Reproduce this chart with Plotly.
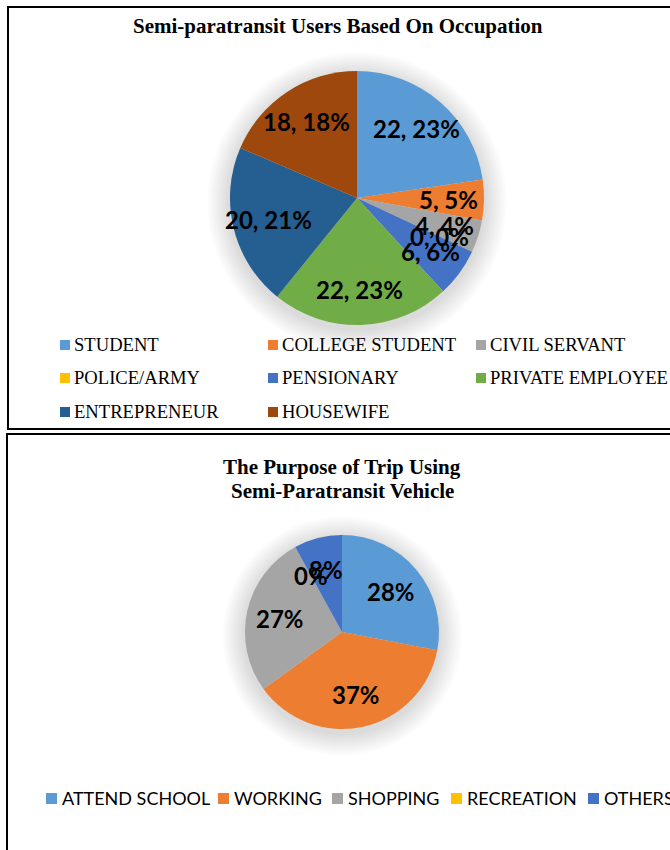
import math
import plotly.graph_objects as go

# ---------------- data ----------------
occ_labels = ["STUDENT", "COLLEGE STUDENT", "CIVIL SERVANT", "POLICE/ARMY",
              "PENSIONARY", "PRIVATE EMPLOYEE", "ENTREPRENEUR", "HOUSEWIFE"]
occ_values = [22, 5, 4, 0, 6, 22, 20, 18]
occ_pct = [23, 5, 4, 0, 6, 23, 21, 18]

trip_labels = ["ATTEND SCHOOL", "WORKING", "SHOPPING", "RECREATION", "OTHERS"]
trip_values = [28, 37, 27, 0, 8]

title_top = "Semi-paratransit Users Based On Occupation"
title_bot_lines = ["The Purpose of Trip Using", "Semi-Paratransit Vehicle"]

# ---------------- style ----------------
occ_colors = ["#5B9BD5", "#ED7D31", "#A5A5A5", "#FFC000",
              "#4472C4", "#70AD47", "#255E91", "#9E480E"]
trip_colors = ["#5B9BD5", "#ED7D31", "#A5A5A5", "#FFC000", "#4472C4"]

W, H = 670, 850
def px(x): return x / W
def py(y): return 1 - y / H

# pie geometry (screen pixels)
top_c, top_r = (357, 198), 127
bot_c, bot_r = (342, 632), 97
top_frac, bot_frac = 0.72, 0.66

fig = go.Figure()
annotations = []
shapes = []

def add_glow(c, r):
    for k in range(1, 10):
        rr = r + k * 2.5
        shapes.append(dict(type="circle", xref="paper", yref="paper", layer="below",
                           x0=px(c[0] - rr), x1=px(c[0] + rr),
                           y0=py(c[1] + 4 + rr), y1=py(c[1] + 4 - rr),
                           fillcolor="rgba(0,0,0,0.014)", line=dict(width=0)))

def add_pie(labels, values, colors, c, r):
    fig.add_trace(go.Pie(
        labels=labels, values=values, sort=False, direction="clockwise",
        rotation=0, marker=dict(colors=colors, line=dict(width=0)),
        textinfo="none", showlegend=False,
        domain=dict(x=[px(c[0] - r), px(c[0] + r)],
                    y=[py(c[1] + r), py(c[1] - r)]),
    ))

add_glow(top_c, top_r)
add_glow(bot_c, bot_r)
add_pie(occ_labels, occ_values, occ_colors, top_c, top_r)
add_pie(trip_labels, trip_values, trip_colors, bot_c, bot_r)

def add_labels(values, texts, c, r, frac):
    total = sum(values)
    cum = 0
    for v, t in zip(values, texts):
        mid = (cum + v / 2) / total * 2 * math.pi
        cum += v
        x = c[0] + frac * r * math.sin(mid)
        y = c[1] - frac * r * math.cos(mid)
        annotations.append(dict(
            x=px(x), y=py(y), xref="paper", yref="paper", text=t,
            showarrow=False, xanchor="center", yanchor="middle",
            font=dict(family="Lato", size=24, color="black", weight="bold"),
        ))

add_labels(occ_values, [f"{v}, {p}%" for v, p in zip(occ_values, occ_pct)],
           top_c, top_r, top_frac)
add_labels(trip_values, [f"{v}%" for v in trip_values], bot_c, bot_r, bot_frac)

# titles
title_font = dict(family="Liberation Serif", size=21, color="black", weight="bold")
annotations.append(dict(x=px(338), y=py(26), xref="paper", yref="paper",
                        text=title_top, showarrow=False, xanchor="center",
                        yanchor="middle", font=title_font))
for line, yy in zip(title_bot_lines, [467, 491]):
    annotations.append(dict(x=px(342), y=py(yy), xref="paper", yref="paper",
                            text=line, showarrow=False, xanchor="center",
                            yanchor="middle", font=title_font))

# top legend (3-column grid)
col_x = [60, 268, 476]
row_y = [344, 377, 411]
for i, (lab, col) in enumerate(zip(occ_labels, occ_colors)):
    x0 = col_x[i % 3]
    yc = row_y[i // 3]
    shapes.append(dict(type="rect", xref="paper", yref="paper",
                       x0=px(x0), x1=px(x0 + 10), y0=py(yc + 6), y1=py(yc - 4),
                       fillcolor=col, line=dict(width=0)))
    annotations.append(dict(x=px(x0 + 12), y=py(yc), xref="paper", yref="paper",
                            text=lab, showarrow=False, xanchor="left",
                            yanchor="middle",
                            font=dict(family="Liberation Serif", size=18.6,
                                      color="black")))

# bottom legend (single row)
leg_x = [46, 218, 332, 451, 588]
leg_y = 798
for x0, lab, col in zip(leg_x, trip_labels, trip_colors):
    shapes.append(dict(type="rect", xref="paper", yref="paper",
                       x0=px(x0), x1=px(x0 + 11), y0=py(leg_y + 6), y1=py(leg_y - 5),
                       fillcolor=col, line=dict(width=0)))
    annotations.append(dict(x=px(x0 + 14), y=py(leg_y), xref="paper", yref="paper",
                            text=lab, showarrow=False, xanchor="left",
                            yanchor="middle",
                            font=dict(family="Lato", size=18, color="black")))

# panel borders
shapes.append(dict(type="rect", xref="paper", yref="paper",
                   x0=px(8), x1=px(690), y0=py(429), y1=py(7),
                   line=dict(color="black", width=2), fillcolor="rgba(0,0,0,0)"))
shapes.append(dict(type="rect", xref="paper", yref="paper",
                   x0=px(7), x1=px(690), y0=py(870), y1=py(434),
                   line=dict(color="black", width=2), fillcolor="rgba(0,0,0,0)"))

fig.update_layout(
    width=W, height=H, margin=dict(l=0, r=0, t=0, b=0),
    paper_bgcolor="white", plot_bgcolor="white",
    annotations=annotations, shapes=shapes, showlegend=False,
)

fig.write_html("out.html")
